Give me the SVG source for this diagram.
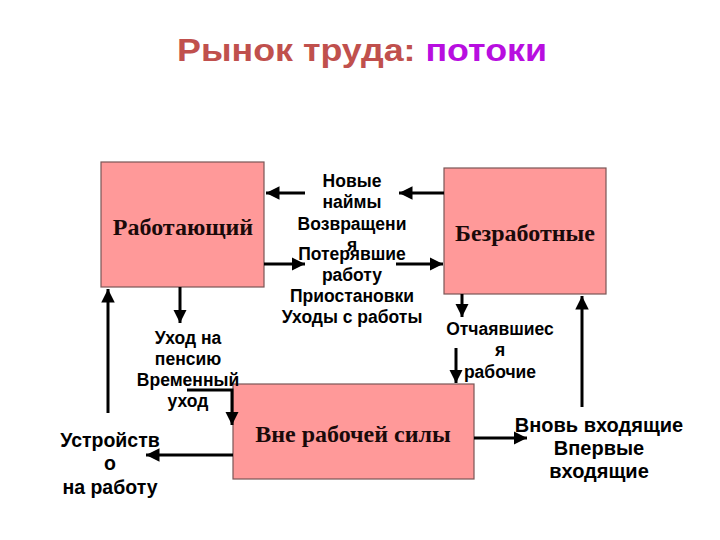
<svg xmlns="http://www.w3.org/2000/svg" width="720" height="540" viewBox="0 0 720 540">
<style>
.box{fill:#ff9999;stroke:#7a5656;stroke-width:1.2}
.bt{font-family:"Liberation Serif","Times New Roman",serif;font-weight:bold;font-size:24px;fill:#1a0a0a;text-anchor:middle}
.lb{font-family:"Liberation Sans",Arial,sans-serif;font-weight:bold;font-size:17.5px;fill:#000;text-anchor:middle}
.lb2{font-size:19.5px}
.lb3{font-size:20px}
.ln{stroke:#000;stroke-width:3;fill:none}
</style>
<defs>
<marker id="ah" viewBox="0 0 10 10" refX="10" refY="5" markerWidth="4.5" markerHeight="4.5" orient="auto" markerUnits="strokeWidth">
<path d="M0,0 L10,5 L0,10 z" fill="#000"/>
</marker>
</defs>
<rect width="720" height="540" fill="#fff"/>
<text x="177" y="61" font-family="'Liberation Sans',Arial,sans-serif" font-weight="bold" font-size="31" textLength="370" lengthAdjust="spacingAndGlyphs"><tspan fill="#c0504d">Рынок труда: </tspan><tspan fill="#b80ee0">потоки</tspan></text>

<g id="employed">
<rect class="box" x="101" y="162" width="163" height="125"/>
<text class="bt" x="183" y="235">Работающий</text>
</g>
<g id="unemployed">
<rect class="box" x="444" y="168" width="162" height="126"/>
<text class="bt" x="525" y="241">Безработные</text>
</g>
<g id="notinlf">
<rect class="box" x="233" y="384" width="241" height="95"/>
<text class="bt" x="353" y="442">Вне рабочей силы</text>
</g>

<g id="connectors">
<line class="ln" x1="444" y1="193" x2="399" y2="193" marker-end="url(#ah)"/>
<line class="ln" x1="305" y1="193" x2="266" y2="193" marker-end="url(#ah)"/>
<line class="ln" x1="264" y1="264" x2="305" y2="264" marker-end="url(#ah)"/>
<line class="ln" x1="396" y1="264" x2="443" y2="264" marker-end="url(#ah)"/>
<line class="ln" x1="180" y1="287" x2="180" y2="323" marker-end="url(#ah)"/>
<line class="ln" x1="108" y1="413" x2="108" y2="289" marker-end="url(#ah)"/>
<polyline class="ln" points="187,390 232,390 232,425" marker-end="url(#ah)"/>
<line class="ln" x1="233" y1="455" x2="146" y2="455" marker-end="url(#ah)"/>
<line class="ln" x1="462" y1="294" x2="462" y2="317" marker-end="url(#ah)"/>
<line class="ln" x1="456" y1="348" x2="456" y2="383" marker-end="url(#ah)"/>
<line class="ln" x1="582" y1="407" x2="582" y2="296" marker-end="url(#ah)"/>
<line class="ln" x1="474" y1="438" x2="527" y2="438" marker-end="url(#ah)"/>
</g>

<g id="labels">
<text class="lb" x="352" y="187">Новые</text>
<text class="lb" x="352" y="208">наймы</text>
<text class="lb" x="352" y="230">Возвращени</text>
<text class="lb" x="352" y="251">я</text>
<text class="lb" x="352" y="260">Потерявшие</text>
<text class="lb" x="352" y="281">работу</text>
<text class="lb" x="352" y="302">Приостановки</text>
<text class="lb" x="352" y="323">Уходы с работы</text>
<text class="lb" x="188" y="344">Уход на</text>
<text class="lb" x="188" y="365">пенсию</text>
<text class="lb" x="188" y="386">Временный</text>
<text class="lb" x="188" y="407">уход</text>
<text class="lb lb2" x="110" y="447">Устройств</text>
<text class="lb lb2" x="110" y="470">о</text>
<text class="lb lb2" x="110" y="494">на работу</text>
<text class="lb" x="500" y="335">Отчаявшиес</text>
<text class="lb" x="500" y="356">я</text>
<text class="lb" x="500" y="378">рабочие</text>
<text class="lb lb3" x="599" y="432">Вновь входящие</text>
<text class="lb lb3" x="599" y="455">Впервые</text>
<text class="lb lb3" x="599" y="478">входящие</text>
</g>
</svg>
